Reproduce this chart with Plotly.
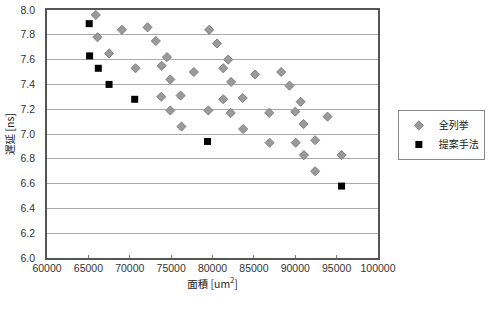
import plotly.graph_objects as go

# 全列挙 (exhaustive enumeration)
enum_area = [65900, 66100, 67500, 69050, 72150, 73150, 74500, 70700, 73850, 74900,
             77750, 73800, 76150, 74900, 76250, 79600, 80550, 81900, 81300, 85150,
             88300, 82250, 89300, 81300, 83650, 90650, 79500, 82200, 86850, 90000,
             93900, 83700, 91000, 86900, 90050, 92400, 91050, 95600, 92400]
enum_delay = [7.96, 7.78, 7.65, 7.84, 7.86, 7.75, 7.62, 7.53, 7.55, 7.44,
              7.50, 7.30, 7.31, 7.19, 7.06, 7.84, 7.73, 7.60, 7.53, 7.48,
              7.50, 7.42, 7.39, 7.28, 7.29, 7.26, 7.19, 7.17, 7.17, 7.18,
              7.14, 7.04, 7.08, 6.93, 6.93, 6.95, 6.83, 6.83, 6.70]

# 提案手法 (proposed method)
prop_area = [65100, 65150, 66200, 67500, 70600, 79400, 95600]
prop_delay = [7.89, 7.63, 7.53, 7.40, 7.28, 6.94, 6.58]

x_ticks = [60000, 65000, 70000, 75000, 80000, 85000, 90000, 95000, 100000]
y_ticks = [6.0, 6.2, 6.4, 6.6, 6.8, 7.0, 7.2, 7.4, 7.6, 7.8, 8.0]

font_family = "Liberation Sans, Noto Sans CJK JP, sans-serif"

fig = go.Figure()
fig.add_trace(go.Scatter(
    x=enum_area, y=enum_delay, mode="markers", name="全列挙",
    marker=dict(symbol="diamond", size=7, color="#9a9a9a",
                line=dict(color="#808080", width=1)),
))
fig.add_trace(go.Scatter(
    x=prop_area, y=prop_delay, mode="markers", name="提案手法",
    marker=dict(symbol="square", size=7, color="#000000",
                line=dict(color="#000000", width=0)),
))

fig.update_layout(
    width=495, height=309,
    margin=dict(l=47, r=112, t=10, b=51),
    paper_bgcolor="white", plot_bgcolor="white",
    font=dict(family=font_family, size=10.5, color="#333333"),
    showlegend=True,
    legend=dict(
        x=1.06, y=0.496, xanchor="left", yanchor="middle",
        bordercolor="#888888", borderwidth=1, bgcolor="white",
        font=dict(family="Noto Sans CJK JP, sans-serif", size=10, color="#222222"),
        itemwidth=30, tracegroupgap=0,
    ),
    xaxis=dict(
        range=[60000, 100000], tickvals=x_ticks, ticktext=[str(v) for v in x_ticks],
        showgrid=False, zeroline=False,
        showline=True, linecolor="#555555", linewidth=1.5, mirror=True,
        ticks="inside", ticklen=3, tickcolor="#777777",
        tickfont=dict(size=10.5, color="#333333"),
        title=dict(text="面積 [um<sup>2</sup>]", standoff=6,
                   font=dict(family="Noto Sans CJK JP, sans-serif", size=10.5, color="#222222")),
        automargin=False,
    ),
    yaxis=dict(
        range=[6.0, 8.0], tickvals=y_ticks, ticktext=[f"{v:.1f}" for v in y_ticks],
        showgrid=True, gridcolor="#aaaaaa", gridwidth=1.3, zeroline=False,
        showline=True, linecolor="#555555", linewidth=1.5, mirror=True,
        ticks="", tickfont=dict(size=10.5, color="#333333"),
        ticklabelstandoff=8,
        title=dict(text="遅延 [ns]", standoff=4,
                   font=dict(family="Noto Sans CJK JP, sans-serif", size=10.5, color="#222222")),
        automargin=False,
    ),
)

fig.write_html("out.html")
